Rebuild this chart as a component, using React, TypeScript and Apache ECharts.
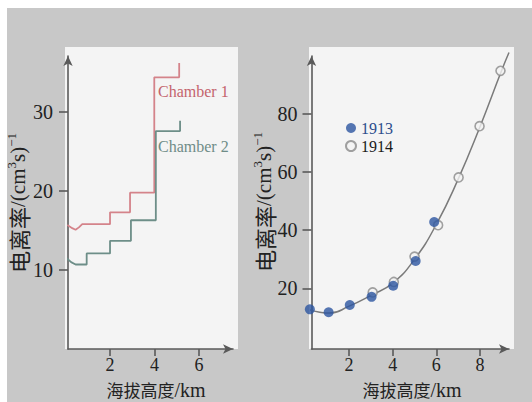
import React, { useEffect, useRef } from "react";
import * as echarts from "echarts";

// ---- Left panel: ionization chambers (step curves) ----
const chamber1Alt = [0.08, 0.3, 0.45, 0.6, 0.75, 2.0, 2.0, 2.9, 2.9, 3.99, 3.99, 5.11, 5.11];
const chamber1Rate = [15.7, 15.3, 15.1, 15.4, 15.8, 15.8, 17.3, 17.3, 19.8, 19.8, 34.4, 34.4, 36.2];
const chamber2Alt = [0.05, 0.25, 0.45, 0.95, 0.95, 2.0, 2.0, 2.94, 2.94, 4.06, 4.06, 5.15, 5.15];
const chamber2Rate = [11.5, 11.0, 10.7, 10.7, 12.1, 12.1, 13.7, 13.7, 16.3, 16.3, 27.6, 27.6, 28.9];

// ---- Right panel: 1913 / 1914 measurements and fitted curve ----
const alt1913 = [0.2, 1.06, 2.03, 3.03, 4.02, 5.05, 5.9];
const rate1913 = [12.8, 11.8, 14.3, 17.1, 20.9, 29.4, 42.8];
const alt1914 = [3.08, 4.05, 5.0, 6.08, 7.02, 7.98, 8.94];
const rate1914 = [18.6, 22.2, 30.9, 41.7, 58.1, 75.7, 94.7];
const fitAlt = [0.2, 0.6, 1.1, 2, 3, 4, 5, 6, 7, 8, 9, 9.33];
const fitRate = [12.6, 11.9, 11.5, 13.9, 17.6, 21.8, 30, 42, 57.5, 75.5, 95, 101];

// ---- Tick labels ----
const leftXTicks = [2, 4, 6];
const leftYTicks = [10, 20, 30];
const rightXTicks = [2, 4, 6, 8];
const rightYTicks = [20, 40, 60, 80];

const seriesNames = ["Chamber 1", "Chamber 2", "1913", "1914"];
const xName = "海拔高度";
const yName = "电离率";

const SERIF = "'Liberation Serif', 'Noto Sans CJK SC', serif";
const CJK = "'Noto Sans CJK SC', sans-serif";
const AXIS = "#5a5a5a";

const zip = (a: number[], b: number[]) => a.map((v, i) => [v, b[i]]);

function axis(ticks: number[], min: number, max: number, gridIndex: number, isX: boolean, margin: number) {
  return {
    type: "value",
    gridIndex,
    min,
    max,
    axisLine: {
      show: true,
      onZero: false,
      lineStyle: { color: AXIS, width: 1.6 },
      symbol: ["none", "arrow"],
      symbolSize: [7, 10],
    },
    axisTick: {
      show: true,
      customValues: ticks,
      length: isX ? 7 : 9,
      lineStyle: { color: AXIS, width: 1.6 },
    },
    axisLabel: {
      customValues: ticks,
      margin,
      color: "#222",
      fontSize: isX ? 18 : 20,
      lineHeight: 16,
      fontFamily: SERIF,
    },
    splitLine: { show: false },
  };
}

const yNameRich = {
  c: { fontSize: 22, fontFamily: CJK, fill: "#222", lineHeight: 26 },
  l: { fontSize: 21, fontFamily: SERIF, fill: "#222", lineHeight: 26 },
  s: { fontSize: 13, fontFamily: SERIF, fill: "#222", lineHeight: 13, verticalAlign: "top" },
};
const xNameRich = {
  c: { fontSize: 17, fontFamily: CJK, fill: "#222", lineHeight: 20 },
  l: { fontSize: 20, fontFamily: SERIF, fill: "#222", lineHeight: 20 },
};

export default function App() {
  const ref = useRef<HTMLDivElement>(null);

  useEffect(() => {
    if (!ref.current) return;
    const chart = echarts.init(ref.current, undefined, { renderer: "svg" });

    const yLabel = (x: number, y: number) => ({
      type: "text",
      x,
      y,
      rotation: Math.PI / 2,
      z: 5,
      style: {
        text: `{c|${yName}}{l|/(cm}{s|3}{l|s)}{s|−1}`,
        rich: yNameRich,
        align: "center",
        verticalAlign: "middle",
        textAlign: "center",
        textVerticalAlign: "middle",
      },
    });
    const xLabel = (x: number, y: number) => ({
      type: "text",
      x,
      y,
      z: 5,
      style: {
        text: `{c|${xName}}{l|/km}`,
        rich: xNameRich,
        align: "center",
        verticalAlign: "middle",
        textAlign: "center",
        textVerticalAlign: "middle",
      },
    });

    chart.setOption({
      animation: false,
      backgroundColor: "#ffffff",
      graphic: [
        { type: "rect", z: -10, shape: { x: 7, y: 8, width: 525, height: 394 }, style: { fill: "#c8c8c8" } },
        { type: "rect", z: -9, shape: { x: 65, y: 47, width: 173, height: 302 }, style: { fill: "#f4f4f4" } },
        { type: "rect", z: -9, shape: { x: 309, y: 47, width: 205, height: 302 }, style: { fill: "#f4f4f4" } },
        xLabel(156, 389.5),
        xLabel(412, 389.5),
        yLabel(18, 203),
        yLabel(264, 202),
        {
          type: "text",
          x: 158,
          y: 91,
          z: 5,
          style: { text: seriesNames[0], font: `16px ${SERIF}`, fill: "#c4646d", textVerticalAlign: "middle", verticalAlign: "middle" },
        },
        {
          type: "text",
          x: 158,
          y: 146,
          z: 5,
          style: { text: seriesNames[1], font: `16px ${SERIF}`, fill: "#6f8c87", textVerticalAlign: "middle", verticalAlign: "middle" },
        },
      ],
      grid: [
        { left: 68, top: 56, width: 165, height: 293 },
        { left: 311.5, top: 56, width: 197.5, height: 293 },
      ],
      xAxis: [
        axis(leftXTicks, 0.11, 7.53, 0, true, 8),
        axis(rightXTicks, 0.275, 9.33, 1, true, 8),
      ],
      yAxis: [
        axis(leftYTicks, 0, 37.1, 0, false, 15),
        axis(rightYTicks, -0.82, 99.8, 1, false, 14),
      ],
      legend: {
        left: 340,
        top: 114,
        orient: "vertical",
        itemWidth: 10,
        itemHeight: 10,
        itemGap: 0,
        icon: "circle",
        data: [
          { name: seriesNames[2], textStyle: { color: "#2b4c8c" } },
          { name: seriesNames[3], textStyle: { color: "#1a1a1a" } },
        ],
        textStyle: { fontSize: 16, fontFamily: SERIF, lineHeight: 18 },
      },
      series: [
        {
          name: seriesNames[0],
          type: "line",
          xAxisIndex: 0,
          yAxisIndex: 0,
          data: zip(chamber1Alt, chamber1Rate),
          showSymbol: false,
          clip: false,
          lineStyle: { color: "#d4838a", width: 1.8 },
          itemStyle: { color: "#d4838a" },
        },
        {
          name: seriesNames[1],
          type: "line",
          xAxisIndex: 0,
          yAxisIndex: 0,
          data: zip(chamber2Alt, chamber2Rate),
          showSymbol: false,
          clip: false,
          lineStyle: { color: "#6d8e88", width: 1.8 },
          itemStyle: { color: "#6d8e88" },
        },
        {
          name: "fit",
          type: "line",
          xAxisIndex: 1,
          yAxisIndex: 1,
          data: zip(fitAlt, fitRate),
          smooth: true,
          showSymbol: false,
          clip: false,
          lineStyle: { color: "#7a7a7a", width: 1.5 },
          z: 2,
        },
        {
          name: seriesNames[3],
          type: "scatter",
          xAxisIndex: 1,
          yAxisIndex: 1,
          data: zip(alt1914, rate1914),
          symbol: "circle",
          symbolSize: 9,
          clip: false,
          itemStyle: { color: "#f4f4f4", borderColor: "#8a8a8a", borderWidth: 1.6 },
          z: 3,
        },
        {
          name: seriesNames[2],
          type: "scatter",
          xAxisIndex: 1,
          yAxisIndex: 1,
          data: zip(alt1913, rate1913),
          symbol: "circle",
          symbolSize: 10,
          clip: false,
          itemStyle: { color: "#2c55a0" },
          z: 4,
        },
      ],
    });

    return () => chart.dispose();
  }, []);

  return (
    <div
      ref={ref}
      style={{ position: "absolute", left: 0, top: 0, width: 532, height: 402 }}
    />
  );
}
